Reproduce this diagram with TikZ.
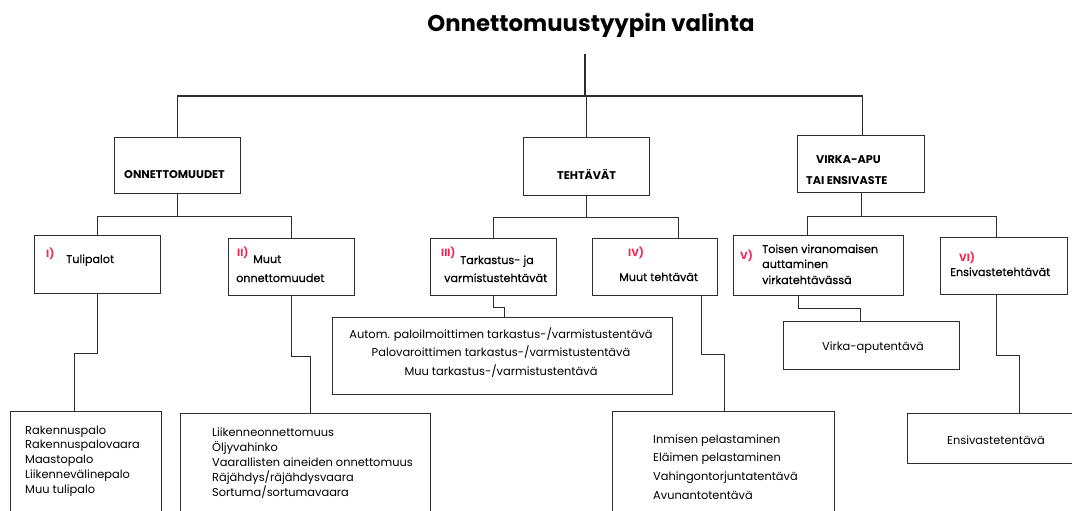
\documentclass[tikz,border=0pt]{standalone}
\usepackage{fontspec}
\setmainfont{Poppins}
\newfontfamily\headfont[FakeBold=0.4]{Poppins}
\definecolor{linec}{RGB}{45,45,45}
\definecolor{numred}{RGB}{240,40,85}
\begin{document}
\begin{tikzpicture}[x=1pt,y=-1pt,
  box/.style={draw=linec, line width=1.1pt, anchor=north west, inner sep=0pt},
  conn/.style={draw=linec, line width=1.1pt},
  ttl/.style={anchor=base, inner sep=0pt, font=\bfseries\fontsize{22.8}{26}\selectfont},
  top/.style={anchor=base west, inner sep=0pt, font=\bfseries\fontsize{11.2}{13}\selectfont},
  head/.style={anchor=base west, inner sep=0pt, font=\headfont\fontsize{11.2}{13}\selectfont},
  num/.style={anchor=base west, inner sep=0pt, text=numred, font=\bfseries\fontsize{10.5}{12}\selectfont},
  lst/.style={anchor=base west, inner sep=0pt, font=\fontsize{11.4}{13}\selectfont},
  lstc/.style={anchor=base, inner sep=0pt, font=\fontsize{11.4}{13}\selectfont}]
\useasboundingbox (0,0) rectangle (1072,511);
\clip (0,0) rectangle (1072,511);
\fill[white] (0,0) rectangle (1072,511);

% title
\node[ttl] (title) at (591,32) {Onnettomuustyypin valinta};
\coordinate (ttop) at (585,54);
\coordinate (bar) at (585,96);

% level 1 boxes
\node[box, minimum width=126, minimum height=56] (onn) at (114,137) {};
\node[box, minimum width=126, minimum height=58] (teh) at (523,137) {};
\node[box, minimum width=127, minimum height=57] (vir) at (797,135) {};

% level 2 boxes
\node[box, minimum width=126, minimum height=58] (tuli) at (34,235) {};
\node[box, minimum width=126, minimum height=57] (muo) at (228,238) {};
\node[box, minimum width=126, minimum height=57] (tark) at (430,238) {};
\node[box, minimum width=125, minimum height=57] (muut) at (592,238) {};
\node[box, minimum width=170, minimum height=60] (tois) at (733,235) {};
\node[box, minimum width=127, minimum height=57] (ensi) at (940,237) {};

% level 3 boxes
\node[box, minimum width=151, minimum height=120] (rak) at (10,411) {};
\node[box, minimum width=250, minimum height=120] (liik) at (180,413) {};
\node[box, minimum width=340, minimum height=77] (aut) at (332,317) {};
\node[box, minimum width=176, minimum height=48] (vapu) at (783,321) {};
\node[box, minimum width=222, minimum height=120] (inm) at (612,411) {};
\node[box, minimum width=180, minimum height=50] (ensv) at (907,413) {};

% connectors, top
\draw[conn] (ttop) -- (bar);
\draw[conn] (onn.north) |- (bar) -| ([xshift=1.5]vir.north);
\draw[conn] (teh.north) -- (teh.north |- bar);

% connectors, level 1 -> 2
\draw[conn] (onn.south) -- ++(0,22) coordinate (onnj);
\draw[conn] (tuli.north) |- (onnj) -| (muo.north);
\draw[conn] (teh.south) -- ++(0,21) coordinate (tehj);
\draw[conn] (tark.north) |- (tehj) -| ([xshift=23.5]muut.north);
\draw[conn] (vir.south) -- ++(0,23) coordinate (virj);
\draw[conn] ([xshift=-11]tois.north) |- (virj) -| ([xshift=-7.5]ensi.north);

% connectors, level 2 -> 3
\draw[conn] (tuli.south) -- ++(0,59) -| ([xshift=-11.5]rak.north);
\draw[conn] (muo.south) -- ++(0,60) -| ([xshift=5]liik.north);
\draw[conn] (tark.south) -- ++(0,11) -| ([xshift=2]aut.north);
\draw[conn] ([xshift=46.5]muut.south) -- ++(0,58) -| ([xshift=1]inm.north);
\draw[conn] ([xshift=-20]tois.south) -- ++(0,12) -| ([xshift=-11]vapu.north);
\draw[conn] ([xshift=-7.5]ensi.south) -- ++(0,60) -| ([xshift=22]ensv.north);

% level 1 texts
\node[top] (tonn) at (124,178) {ONNETTOMUUDET};
\node[top] (tteh) at (557,179) {TEHTÄVÄT};
\node[top] (tvir1) at (816,164) {VIRKA-APU};
\node[top] (tvir2) at (806,184) {TAI ENSIVASTE};

% level 2 texts
\node[num] (n1) at (46,257) {I)};
\node[head] (h1) at (66,263) {Tulipalot};
\node[num] (n2) at (237,256) {II)};
\node[head] (h2a) at (253,263) {Muut};
\node[head] (h2b) at (236,282) {onnettomuudet};
\node[num] (n3) at (441,256) {III)};
\node[head] (h3a) at (460,264) {Tarkastus- ja};
\node[head] (h3b) at (444,282) {varmistustehtävät};
\node[num] (n4) at (628,256) {IV)};
\node[head] (h4) at (619,281) {Muut tehtävät};
\node[num] (n5) at (740,259) {V)};
\node[head] (h5a) at (762,253) {Toisen viranomaisen};
\node[head] (h5b) at (762,268) {auttaminen};
\node[head] (h5c) at (762,284) {virkatehtävässä};
\node[num] (n6) at (959,261) {VI)};
\node[head] (h6) at (950,276) {Ensivastetehtävät};

% level 3 texts
\foreach \t [count=\i] in {Rakennuspalo, Rakennuspalovaara, Maastopalo, Liikennevälinepalo, Muu tulipalo}
  \node[lst] (rl\i) at (25,{434+14.8*(\i-1)}) {\t};
\foreach \t [count=\i] in {Liikenneonnettomuus, Öljyvahinko, Vaarallisten aineiden onnettomuus, Räjähdys/räjähdysvaara, Sortuma/sortumavaara}
  \node[lst] (ll\i) at (212,{436+15*(\i-1)}) {\t};
\foreach \t [count=\i] in {Autom. paloilmoittimen tarkastus-/varmistustentävä, Palovaroittimen tarkastus-/varmistustentävä, Muu tarkastus-/varmistustentävä}
  \node[lstc] (al\i) at (501,{338+18.5*(\i-1)}) {\t};
\node[lstc] (vl) at (873,350) {Virka-aputentävä};
\foreach \t [count=\i] in {Inmisen pelastaminen, Eläimen pelastaminen, Vahingontorjuntatentävä, Avunantotentävä}
  \node[lst] (il\i) at (653,{443+18.7*(\i-1)}) {\t};
\node[lstc] (el) at (996,444) {Ensivastetentävä};
\end{tikzpicture}
\end{document}
